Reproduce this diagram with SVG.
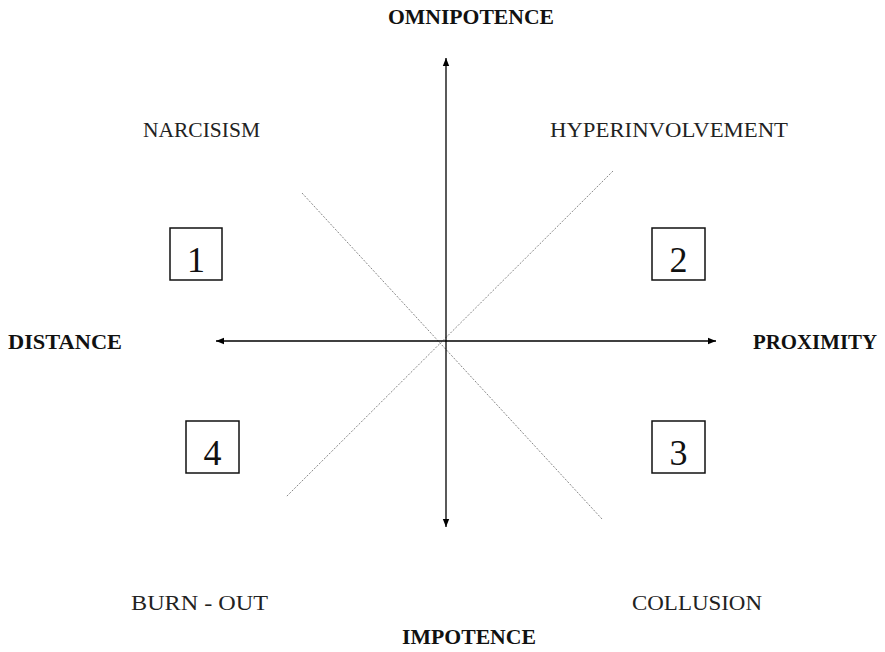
<svg xmlns="http://www.w3.org/2000/svg" width="885" height="652" viewBox="0 0 885 652">
<defs>
<style>
.lbl{font-family:"Liberation Serif","DejaVu Serif",serif;font-size:21px;fill:#222}
.bold{font-family:"Liberation Serif","DejaVu Serif",serif;font-size:20px;font-weight:bold;fill:#111}
.num{font-family:"Liberation Serif","DejaVu Serif",serif;font-size:36px;fill:#111;text-anchor:middle}
.box{fill:#fff;stroke:#111;stroke-width:1.5}
.axis{stroke:#000;stroke-width:1.3;fill:none}
.diag{stroke:#888;stroke-width:1;stroke-dasharray:2 1.5;fill:none}
</style>
<marker id="ah" viewBox="0 0 10 10" refX="10" refY="5" markerWidth="8" markerHeight="8" markerUnits="userSpaceOnUse" orient="auto-start-reverse">
<path d="M0,1 L10,5 L0,9 Z" fill="#000"/>
</marker>
</defs>
<g id="connectors">
<line class="diag" x1="302" y1="193" x2="602" y2="519"/>
<line class="diag" x1="613" y1="171" x2="286" y2="497"/>
<line class="axis" x1="446" y1="58" x2="446" y2="527" marker-start="url(#ah)" marker-end="url(#ah)"/>
<line class="axis" x1="216" y1="341" x2="716" y2="341" marker-start="url(#ah)" marker-end="url(#ah)"/>
</g>
<g id="omnipotence"><text class="bold" x="388" y="24" textLength="166" lengthAdjust="spacingAndGlyphs">OMNIPOTENCE</text></g>
<g id="impotence"><text class="bold" x="402" y="644" textLength="134" lengthAdjust="spacingAndGlyphs">IMPOTENCE</text></g>
<g id="distance"><text class="bold" x="8" y="349" textLength="114" lengthAdjust="spacingAndGlyphs">DISTANCE</text></g>
<g id="proximity"><text class="bold" x="753" y="349" textLength="124" lengthAdjust="spacingAndGlyphs">PROXIMITY</text></g>
<g id="narcisism"><text class="lbl" x="143" y="137" textLength="117" lengthAdjust="spacingAndGlyphs">NARCISISM</text></g>
<g id="hyperinvolvement"><text class="lbl" x="550" y="137" textLength="238" lengthAdjust="spacingAndGlyphs">HYPERINVOLVEMENT</text></g>
<g id="burnout"><text class="lbl" x="131" y="610" textLength="137" lengthAdjust="spacingAndGlyphs">BURN - OUT</text></g>
<g id="collusion"><text class="lbl" x="632" y="610" textLength="130" lengthAdjust="spacingAndGlyphs">COLLUSION</text></g>
<g id="box1"><rect class="box" x="170" y="228" width="52" height="52"/><text class="num" x="196" y="272">1</text></g>
<g id="box2"><rect class="box" x="652" y="228" width="53" height="52"/><text class="num" x="678.5" y="272">2</text></g>
<g id="box3"><rect class="box" x="652" y="421" width="53" height="52"/><text class="num" x="678.5" y="465">3</text></g>
<g id="box4"><rect class="box" x="186" y="421" width="53" height="52"/><text class="num" x="212.5" y="465">4</text></g>
</svg>
